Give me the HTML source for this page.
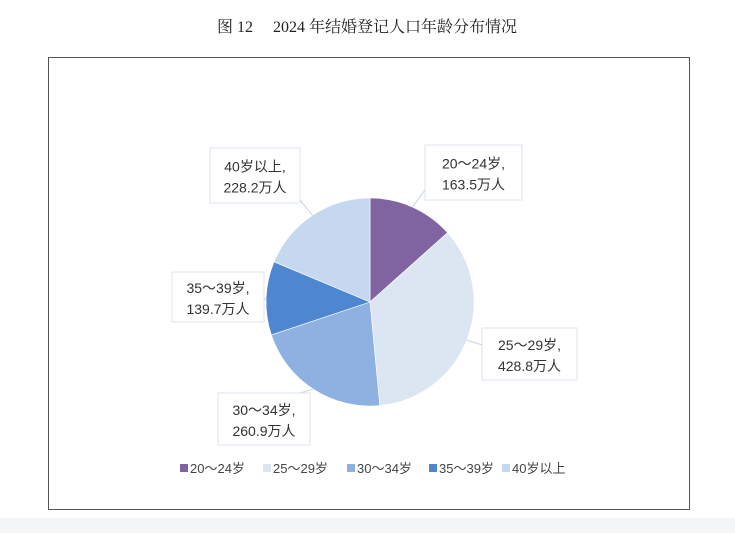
<!DOCTYPE html>
<html><head><meta charset="utf-8"><style>
body{margin:0;background:#fff;width:735px;height:533px;overflow:hidden;font-family:"Liberation Sans","Noto Sans CJK SC",sans-serif;}
</style></head><body>
<svg width="735" height="533" xmlns="http://www.w3.org/2000/svg">
<rect x="0" y="518" width="735" height="15" fill="#f4f5f7"/>
<text x="367" y="32" text-anchor="middle" font-size="16" fill="#222" font-family="Liberation Serif,Noto Serif CJK SC,serif">图 12　 2024 年结婚登记人口年龄分布情况</text>
<rect x="48.5" y="57.5" width="641" height="452" fill="#fff" stroke="#555"/>
<g id="pie"></g>
<g id="labels"></g>
<g id="legend"></g>
</svg>
<script>
const categories=["20～24岁","25～29岁","30～34岁","35～39岁","40岁以上"];
const values=[163.5,428.8,260.9,139.7,228.2];
const colors=["#8064a2","#dce5f2","#8eb1e2","#4f86d0","#c6d8ef"];
const NS="http://www.w3.org/2000/svg";
const cx=370,cy=302,r=104;
const total=values.reduce((a,b)=>a+b,0);
const pie=document.getElementById('pie');
let a0=0;
const pt=(a,rr)=>[cx+rr*Math.sin(a),cy-rr*Math.cos(a)];
const mids=[];
values.forEach((v,i)=>{
  const a1=a0+v/total*2*Math.PI;
  const p0=pt(a0,r),p1=pt(a1,r);
  const p=document.createElementNS(NS,'path');
  p.setAttribute('d',`M${cx},${cy}L${p0[0]},${p0[1]}A${r},${r} 0 ${a1-a0>Math.PI?1:0} 1 ${p1[0]},${p1[1]}Z`);
  p.setAttribute('fill',colors[i]);p.setAttribute('stroke','#fff');p.setAttribute('stroke-width','0.6');
  
  
  pie.appendChild(p);
  mids.push((a0+a1)/2);a0=a1;
});
const boxes=[[425,145,97,55],[482,328,95,52],[218,393,92,52],[172,272,92,50],[210,148,90,55]];
const anchors=[[425,190],[482,345],[300,393],[264,300],[300,200]];
const lab=document.getElementById('labels');
values.forEach((v,i)=>{
  const [x,y,w,h]=boxes[i];
  const e=pt(mids[i],r);
  const l=document.createElementNS(NS,'line');
  l.setAttribute('x1',e[0]);l.setAttribute('y1',e[1]);l.setAttribute('x2',anchors[i][0]);l.setAttribute('y2',anchors[i][1]);
  l.setAttribute('stroke','#c8d3e3');
  
  
  lab.appendChild(l);
  const b=document.createElementNS(NS,'rect');
  b.setAttribute('x',x);b.setAttribute('y',y);b.setAttribute('width',w);b.setAttribute('height',h);
  b.setAttribute('fill','#fff');b.setAttribute('stroke','#dde3ec');
  
  
  lab.appendChild(b);
  [categories[i]+",",v.toFixed(1)+"万人"].forEach((s,k)=>{
    const t=document.createElementNS(NS,'text');
    t.setAttribute('x',x+w/2);t.setAttribute('y',y+h/2-4+k*21);t.setAttribute('text-anchor','middle');
    t.setAttribute('font-size','14');t.setAttribute('fill','#333');t.textContent=s;
    
    
    lab.appendChild(t);
  });
});
const lg=document.getElementById('legend');
const lx=[180,263,347,429,502];
categories.forEach((c,i)=>{
  const s=document.createElementNS(NS,'rect');
  s.setAttribute('x',lx[i]);s.setAttribute('y',464);s.setAttribute('width',8);s.setAttribute('height',8);s.setAttribute('fill',colors[i]);
  
  
  lg.appendChild(s);
  const t=document.createElementNS(NS,'text');
  t.setAttribute('x',lx[i]+10);t.setAttribute('y',473);t.setAttribute('font-size','13');t.setAttribute('fill','#444');t.textContent=c;
  
  
  lg.appendChild(t);
});
</script>
</body></html>
